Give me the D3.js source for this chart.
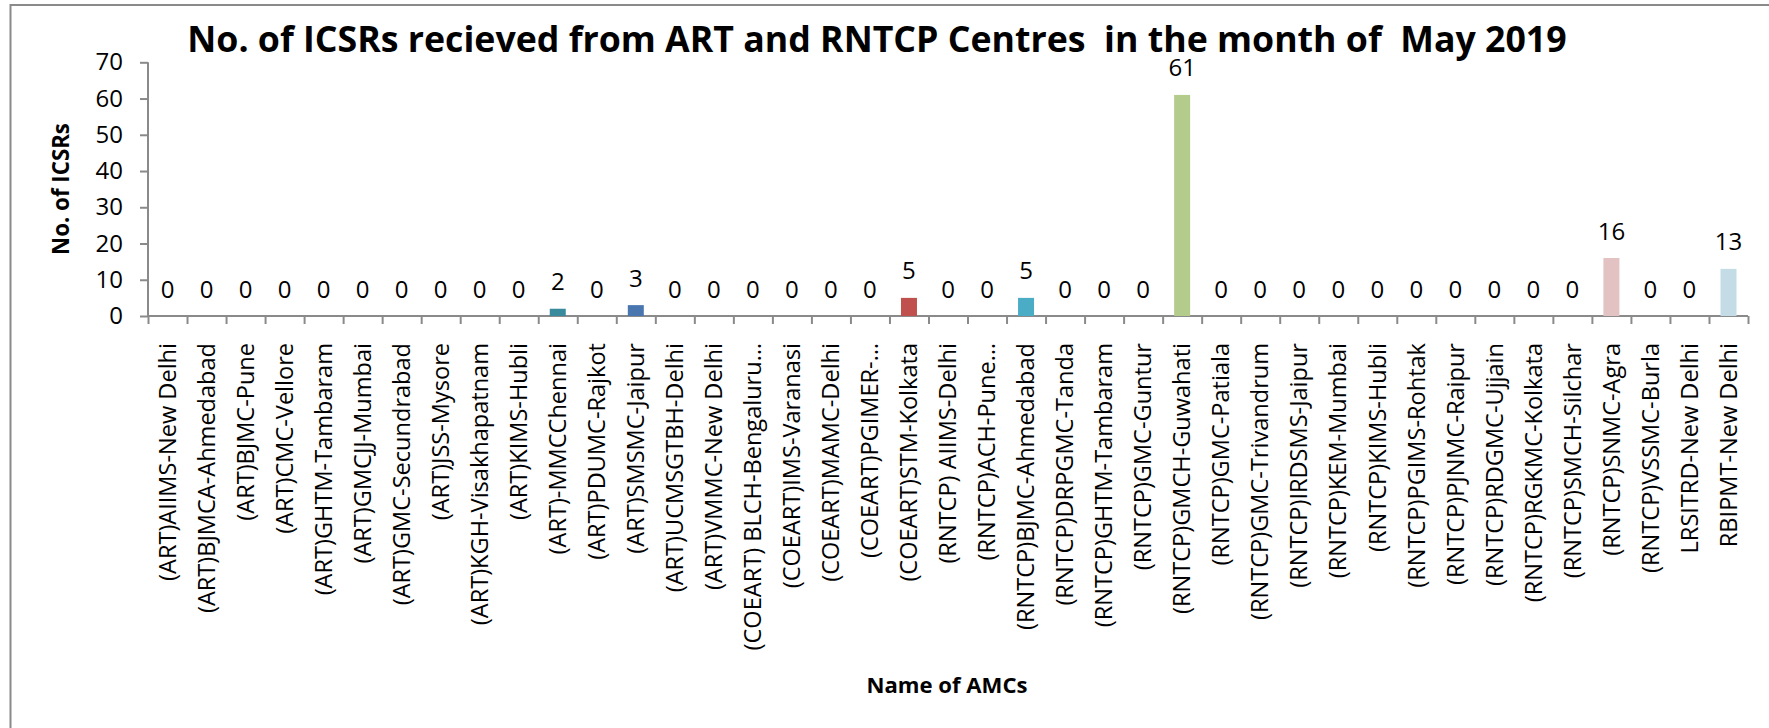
<!DOCTYPE html>
<html>
<head>
<meta charset="utf-8">
<script src="https://cdn.jsdelivr.net/npm/d3@7"></script>
<style>
  body { margin: 0; background: #fff; }
  text { font-family: "Open Sans", "Noto Sans", sans-serif; fill: #000; }
</style>
</head>
<body>
<script>
// Chart data
var centres = [
  "(ART)AIIMS-New Delhi", "(ART)BJMCA-Ahmedabad", "(ART)BJMC-Pune", "(ART)CMC-Vellore",
  "(ART)GHTM-Tambaram", "(ART)GMCJJ-Mumbai", "(ART)GMC-Secundrabad", "(ART)JSS-Mysore",
  "(ART)KGH-Visakhapatnam", "(ART)KIMS-Hubli", "(ART)-MMCChennai", "(ART)PDUMC-Rajkot",
  "(ART)SMSMC-Jaipur", "(ART)UCMSGTBH-Delhi", "(ART)VMMC-New Delhi", "(COEART) BLCH-Bengaluru…",
  "(COEART)IMS-Varanasi", "(COEART)MAMC-Delhi", "(COEART)PGIMER-…", "(COEART)STM-Kolkata",
  "(RNTCP) AIIMS-Delhi", "(RNTCP)ACH-Pune…", "(RNTCP)BJMC-Ahmedabad", "(RNTCP)DRPGMC-Tanda",
  "(RNTCP)GHTM-Tambaram", "(RNTCP)GMC-Guntur", "(RNTCP)GMCH-Guwahati", "(RNTCP)GMC-Patiala",
  "(RNTCP)GMC-Trivandrum", "(RNTCP)IRDSMS-Jaipur", "(RNTCP)KEM-Mumbai", "(RNTCP)KIMS-Hubli",
  "(RNTCP)PGIMS-Rohtak", "(RNTCP)PJNMC-Raipur", "(RNTCP)RDGMC-Ujjain", "(RNTCP)RGKMC-Kolkata",
  "(RNTCP)SMCH-Silchar", "(RNTCP)SNMC-Agra", "(RNTCP)VSSMC-Burla", "LRSITRD-New Delhi",
  "RBIPMT-New Delhi"
];
var icsrs = [
  0, 0, 0, 0, 0, 0, 0, 0, 0, 0, 2, 0, 3, 0, 0, 0, 0, 0, 0, 5,
  0, 0, 5, 0, 0, 0, 61, 0, 0, 0, 0, 0, 0, 0, 0, 0, 0, 16, 0, 0, 13
];
var barColors = [
  "#4f81bd", "#c0504d", "#9bbb59", "#8064a2", "#4bacc6", "#f79646", "#2c4d75", "#772c2a",
  "#5f7530", "#4d3b62", "#3a8a9e", "#b65708", "#4a76b0", "#c0504d", "#9bbb59", "#8064a2",
  "#4bacc6", "#f79646", "#2c4d75", "#c0504d", "#5f7530", "#4d3b62", "#4bacc6", "#b65708",
  "#4f81bd", "#c0504d", "#b3cb8b", "#8064a2", "#4bacc6", "#f79646", "#2c4d75", "#772c2a",
  "#5f7530", "#4d3b62", "#3a8a9e", "#b65708", "#4f81bd", "#e2c2c3", "#9bbb59", "#8064a2",
  "#c3dce6"
];
var yTicks = [0, 10, 20, 30, 40, 50, 60, 70];

var titleText = "No. of ICSRs recieved from ART and RNTCP Centres  in the month of  May 2019";
var yTitle = "No. of ICSRs";
var xTitle = "Name of AMCs";

// SVG area
var svgWidth = 1769;
var svgHeight = 728;

var plot = { left: 148, right: 1748, top: 62.3, bottom: 316 };

var svg = d3.select("body")
  .append("svg")
  .attr("width", svgWidth)
  .attr("height", svgHeight);

// outer frame of the chart area
svg.append("rect")
  .attr("x", 10.5)
  .attr("y", 5)
  .attr("width", 1900)
  .attr("height", 900)
  .attr("fill", "none")
  .attr("stroke", "#8a8a8a")
  .attr("stroke-width", 2);

// shrink or grow a text so that it takes the wanted length
function fitText(sel, wanted) {
  var size = parseFloat(sel.attr("font-size"));
  var w = sel.node().getComputedTextLength();
  sel.attr("font-size", size * wanted / w);
  return size * wanted / w;
}

// Scales
var xBand = d3.scaleBand()
  .domain(centres)
  .range([plot.left, plot.right])
  .padding(0);

var xBar = d3.scaleBand()
  .domain(centres)
  .range([plot.left, plot.right])
  .paddingInner(0.59)
  .paddingOuter(0.295);

var xEdge = d3.scaleLinear()
  .domain([0, centres.length])
  .range([plot.left, plot.right]);

var yScale = d3.scaleLinear()
  .domain([0, 70])
  .range([plot.bottom, plot.top]);

// Y axis
var yAxisG = svg.append("g")
  .attr("transform", `translate(${plot.left}, 0)`)
  .call(d3.axisLeft(yScale).tickValues(yTicks).tickSize(8).tickPadding(17));

yAxisG.selectAll("text")
  .attr("font-size", 24)
  .attr("font-family", "Open Sans")
  .attr("fill", "#000");

// X axis: boundary ticks only
var xAxisG = svg.append("g")
  .attr("transform", `translate(0, ${plot.bottom})`)
  .call(d3.axisBottom(xEdge).tickValues(d3.range(centres.length + 1)).tickSize(8).tickFormat(""));

svg.selectAll(".domain, .tick line")
  .attr("stroke", "#8a8a8a")
  .attr("stroke-width", 2);
xAxisG.select(".domain").attr("d", `M${plot.left},0H${plot.right}`);
yAxisG.select(".domain").attr("d", `M0,${plot.top}V${plot.bottom}`);

// Bars
var data = centres.map((c, i) => ({ name: c, value: icsrs[i], color: barColors[i] }));

svg.selectAll(".bar")
  .data(data)
  .enter()
  .append("rect")
  .classed("bar", true)
  .attr("x", d => xBar(d.name))
  .attr("y", d => yScale(d.value))
  .attr("width", xBar.bandwidth())
  .attr("height", d => plot.bottom - yScale(d.value))
  .attr("fill", d => d.color);

// Value labels
svg.selectAll(".value")
  .data(data)
  .enter()
  .append("text")
  .classed("value", true)
  .attr("x", d => xBand(d.name) + xBand.bandwidth() / 2)
  .attr("y", d => yScale(d.value) - 18.5)
  .attr("text-anchor", "middle")
  .attr("font-size", 24)
  .text(d => d.value);

// Category labels
var catLabels = svg.selectAll(".cat")
  .data(centres)
  .enter()
  .append("text")
  .classed("cat", true)
  .attr("transform", d => `translate(${xBand(d) + xBand.bandwidth() / 2}, 343) rotate(-90)`)
  .attr("dy", "0.35em")
  .attr("text-anchor", "end")
  .attr("font-size", 22)
  .text(d => d);

var catSize = fitText(catLabels.filter((d, i) => i === 0), 238);
catLabels.attr("font-size", catSize);

// Title
var title = svg.append("text")
  .attr("x", 877)
  .attr("y", 52)
  .attr("text-anchor", "middle")
  .attr("font-weight", "bold")
  .attr("font-size", 36)
  .style("white-space", "pre")
  .text(titleText);
fitText(title, 1380);

// Axis titles
var yt = svg.append("text")
  .attr("transform", "translate(61, 189) rotate(-90)")
  .attr("dy", "0.35em")
  .attr("text-anchor", "middle")
  .attr("font-weight", "bold")
  .attr("font-size", 20)
  .text(yTitle);
fitText(yt, 132);

var xt = svg.append("text")
  .attr("x", 947)
  .attr("y", 693)
  .attr("text-anchor", "middle")
  .attr("font-weight", "bold")
  .attr("font-size", 22)
  .text(xTitle);
fitText(xt, 161);
</script>
</body>
</html>
